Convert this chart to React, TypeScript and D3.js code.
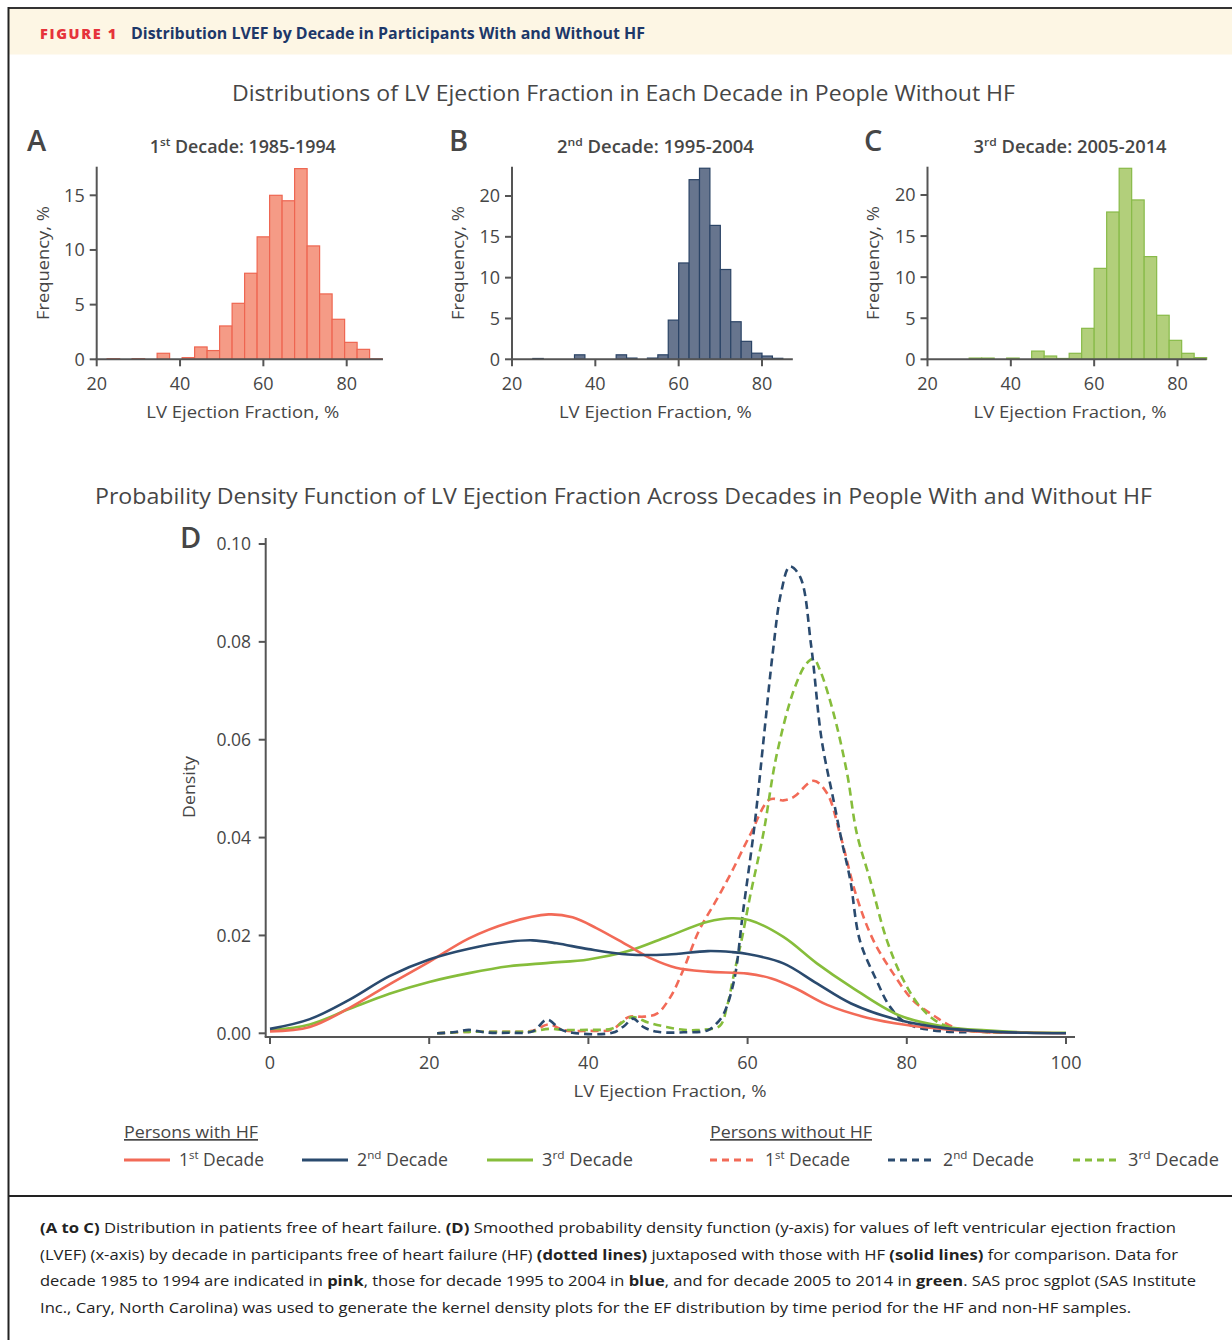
import React from "react";
import * as d3 from "d3";

// ---------- DATA ----------
// Panel A (1st decade 1985-1994), bin width 3, left edges
const binsA = [22.5, 28.5, 34.5, 40.5, 43.5, 46.5, 49.5, 52.5, 55.5, 58.5, 61.5, 64.5, 67.5, 70.5, 73.5, 76.5, 79.5, 82.5, 85.5];
const freqA = [0.06, 0.06, 0.55, 0.15, 1.13, 0.8, 3.05, 5.12, 7.87, 11.2, 15.0, 14.5, 17.44, 10.37, 5.98, 3.66, 1.55, 0.91, 0.04];
// Panel B (2nd decade 1995-2004), bin width 2.5, left edges
const binsB = [25, 35, 45, 47.5, 52.5, 55, 57.5, 60, 62.5, 65, 67.5, 70, 72.5, 75, 77.5, 80, 82.5];
const freqB = [0.1, 0.55, 0.55, 0.15, 0.15, 0.55, 4.8, 11.8, 22.0, 23.4, 16.4, 11.0, 4.6, 2.2, 0.75, 0.4, 0.12];
// Panel C (3rd decade 2005-2014), bin width 3, left edges
const binsC = [30, 33, 39, 45, 48, 51, 54, 57, 60, 63, 66, 69, 72, 75, 78, 81, 84];
const freqC = [0.15, 0.15, 0.15, 1.0, 0.4, 0.1, 0.73, 3.77, 11.07, 17.93, 23.25, 19.4, 12.5, 5.36, 2.31, 0.73, 0.2];

const histXTicks = [20, 40, 60, 80];
const histAYTicks = [0, 5, 10, 15];
const histBYTicks = [0, 5, 10, 15, 20];
const histCYTicks = [0, 5, 10, 15, 20];

// Panel D density curves [EF, density]
const hf1: [number, number][] = [[0, 0.0004], [5, 0.0013], [10, 0.0052], [15, 0.0100], [20, 0.0146], [25, 0.0194], [30, 0.0226], [35, 0.0243], [38, 0.0237], [41, 0.0215], [45, 0.0179], [48, 0.0152], [51, 0.0134], [55, 0.0126], [60, 0.0122], [63, 0.0112], [66, 0.0092], [70, 0.0058], [75, 0.0032], [80, 0.0017], [85, 0.0008], [90, 0.0003], [95, 0.0001], [100, 0]];
const hf2: [number, number][] = [[0, 0.0009], [5, 0.0029], [10, 0.0069], [15, 0.0117], [20, 0.0151], [25, 0.0173], [30, 0.0187], [33, 0.019], [36, 0.0184], [40, 0.0172], [45, 0.0161], [50, 0.0161], [55, 0.0168], [58, 0.0166], [60, 0.0162], [64.5, 0.0143], [68.7, 0.0102], [73, 0.0061], [79, 0.0027], [85, 0.001], [90, 0.0004], [95, 0.0001], [100, 0]];
const hf3: [number, number][] = [[0, 0.0006], [5, 0.0018], [10, 0.005], [15, 0.0081], [20, 0.0105], [25, 0.0123], [30, 0.0137], [35, 0.0144], [40, 0.0151], [45, 0.0168], [50, 0.0198], [55, 0.0228], [58, 0.0235], [60.3, 0.0231], [64.5, 0.0197], [68.7, 0.0143], [73, 0.0095], [79, 0.0037], [85, 0.0013], [90, 0.0006], [95, 0.0002], [100, 0.0001]];
const nohf1: [number, number][] = [[21, 0], [25, 0.0003], [30, 0.0003], [33, 0.0005], [35, 0.0018], [37, 0.0006], [40, 0.0005], [43, 0.0008], [45, 0.0033], [47, 0.0034], [48.6, 0.004], [50.3, 0.0074], [51.9, 0.0129], [53.9, 0.021], [56, 0.027], [58, 0.033], [60.3, 0.0405], [62.8, 0.0478], [64.5, 0.0476], [65.8, 0.0483], [68.3, 0.0516], [70, 0.049], [71.6, 0.0408], [73.7, 0.0279], [75.8, 0.019], [78.3, 0.0122], [80.8, 0.0067], [83.3, 0.0037], [85.8, 0.0013], [88, 0.0005], [92, 0.0001]];
const nohf2: [number, number][] = [[21, 0], [23, 0.0002], [25, 0.0007], [27, 0.0002], [30, 0.0001], [33, 0.0004], [34.8, 0.0028], [36.5, 0.0008], [38, 0.0001], [43, 0.0001], [44.5, 0.0015], [45.6, 0.003], [47, 0.0012], [48.7, 0.0003], [52, 0.0002], [55, 0.0006], [56.1, 0.002], [57, 0.004], [58.3, 0.0108], [59.4, 0.0245], [60.9, 0.0429], [62, 0.0599], [63.2, 0.0783], [64.2, 0.09], [65.3, 0.0954], [66.6, 0.0933], [68, 0.079], [69.3, 0.06], [70.8, 0.0476], [71.8, 0.0395], [72.9, 0.0313], [74.1, 0.019], [76.2, 0.0108], [77.9, 0.0054], [80, 0.002], [83.3, 0.0006], [87.5, 0.0002]];
const nohf3: [number, number][] = [[21, 0], [25, 0.0003], [30, 0.0003], [33, 0.0004], [35, 0.0009], [37, 0.0007], [40, 0.0007], [43, 0.001], [45.5, 0.0033], [47.5, 0.0022], [49.8, 0.0013], [52, 0.0007], [54, 0.0007], [56.5, 0.0015], [57.4, 0.0054], [58.3, 0.0122], [59.3, 0.0195], [60.3, 0.0279], [62, 0.041], [63.6, 0.0565], [65.8, 0.0701], [67.4, 0.0756], [68.3, 0.0765], [69.1, 0.0742], [70.8, 0.0654], [72.5, 0.0531], [73.7, 0.041], [75.4, 0.0313], [77.5, 0.019], [79.6, 0.0108], [81.7, 0.0054], [84.2, 0.002], [87.5, 0.0006], [92, 0.0001]];

const densityXTicks = [0, 20, 40, 60, 80, 100];
const densityYTicks = [0, 0.02, 0.04, 0.06, 0.08, 0.1];

const decadeSup = ["st", "nd", "rd"];

// ---------- STYLE ----------
const FONT = "'Open Sans', 'Noto Sans', sans-serif";
const TXT = "#464646";
const AX = "#555";
const RED = "#f26a57";
const BLUE = "#2a4a6e";
const GREEN = "#86bd3b";

type HistCfg = {
  letter: string; letterX: number; num: string; sup: string; title: string; titleW: number; bins: number[]; freq: number[]; bw: number;
  yTicks: number[]; left: number; yTopPx: number; xEnd: number; fill: string; stroke: string;
};

const histCfgs: HistCfg[] = [
  { letter: "A", letterX: 27, num: "1", sup: "st", title: " Decade: 1985-1994", titleW: 186, bins: binsA, freq: freqA, bw: 3, yTicks: histAYTicks, left: 96.7, yTopPx: 195.3, xEnd: 88.7, fill: "#f59b86", stroke: "#ee6651" },
  { letter: "B", letterX: 449, num: "2", sup: "nd", title: " Decade: 1995-2004", titleW: 197, bins: binsB, freq: freqB, bw: 2.5, yTicks: histBYTicks, left: 512, yTopPx: 196, xEnd: 87.4, fill: "#67758e", stroke: "#2b4466" },
  { letter: "C", letterX: 864, num: "3", sup: "rd", title: " Decade: 2005-2014", titleW: 193, bins: binsC, freq: freqC, bw: 3, yTicks: histCYTicks, left: 927.5, yTopPx: 195, xEnd: 87, fill: "#b2cf7b", stroke: "#88ba48" },
];

function Histogram({ c }: { c: HistCfg }) {
  const base = 359.3;
  const x = d3.scaleLinear().domain([20, 80]).range([c.left, c.left + 250]);
  const ymax = c.yTicks[c.yTicks.length - 1];
  const y = d3.scaleLinear().domain([0, ymax]).range([base, c.yTopPx]);
  const x1 = x(c.xEnd);
  const mid = (c.left + x1) / 2 + 3;
  return (
    <g>
      <text x={c.letterX} y={150.7} fontSize={29} fontWeight={600} fill={TXT}>{c.letter}</text>
      <text x={mid} y={153.3} fontSize={17.5} fontWeight={600} fill={TXT} textAnchor="middle" textLength={c.titleW} lengthAdjust="spacingAndGlyphs">
        {c.num}
        <tspan dy={-7} fontSize={11.5}>{c.sup}</tspan>
        <tspan dy={7}>{c.title}</tspan>
      </text>
      {c.bins.map((b, i) => (
        <rect key={i} x={x(b)} y={y(c.freq[i])} width={x(b + c.bw) - x(b)} height={base - y(c.freq[i])}
          fill={c.fill} stroke={c.stroke} strokeWidth={1.2} />
      ))}
      <line x1={c.left} x2={c.left} y1={166.7} y2={base} stroke={AX} strokeWidth={2} />
      <line x1={c.left - 1} x2={x1} y1={base} y2={base} stroke={AX} strokeWidth={2} />
      {c.yTicks.map((t) => (
        <g key={t}>
          <line x1={c.left - 7} x2={c.left} y1={y(t)} y2={y(t)} stroke={AX} strokeWidth={2} />
          <text x={c.left - 12} y={y(t)} dy="0.36em" fontSize={18} fill={TXT} textAnchor="end">{t}</text>
        </g>
      ))}
      {histXTicks.map((t) => (
        <g key={t}>
          <line x1={x(t)} x2={x(t)} y1={base} y2={base + 7} stroke={AX} strokeWidth={2} />
          <text x={x(t)} y={390} fontSize={18} fill={TXT} textAnchor="middle">{t}</text>
        </g>
      ))}
      <text x={mid} y={418} fontSize={17} fill={TXT} textAnchor="middle" textLength={193} lengthAdjust="spacingAndGlyphs">LV Ejection Fraction, %</text>
      <text transform={`translate(${c.left - 54},263) rotate(-90)`} dy="0.35em" fontSize={17} fill={TXT} textAnchor="middle" textLength={114} lengthAdjust="spacingAndGlyphs">Frequency, %</text>
    </g>
  );
}

function DensityPanel() {
  const x = d3.scaleLinear().domain([0, 100]).range([270, 1066]);
  const y = d3.scaleLinear().domain([0, 0.1]).range([1033.3, 544]);
  const line = d3.line<[number, number]>().x((d) => x(d[0])).y((d) => y(d[1])).curve(d3.curveCatmullRom.alpha(0.5));
  const axY = 1037;
  const axX = 265.7;
  const series = [
    { d: nohf1, color: RED, dash: true },
    { d: nohf3, color: GREEN, dash: true },
    { d: nohf2, color: BLUE, dash: true },
    { d: hf3, color: GREEN, dash: false },
    { d: hf1, color: RED, dash: false },
    { d: hf2, color: BLUE, dash: false },
  ];
  return (
    <g>
      <text x={180} y={548} fontSize={29} fontWeight={600} fill={TXT}>D</text>
      {series.map((s, i) => (
        <path key={i} d={line(s.d) || ""} fill="none" stroke={s.color} strokeWidth={2.6}
          strokeDasharray={s.dash ? "8,5" : undefined} />
      ))}
      <line x1={axX} x2={axX} y1={538} y2={axY} stroke={AX} strokeWidth={2} />
      <line x1={axX - 1} x2={1075} y1={axY} y2={axY} stroke={AX} strokeWidth={2} />
      {densityYTicks.map((t) => (
        <g key={t}>
          <line x1={axX - 7} x2={axX} y1={y(t)} y2={y(t)} stroke={AX} strokeWidth={2} />
          <text x={251} y={y(t)} dy="0.36em" fontSize={17.5} fill={TXT} textAnchor="end">{t.toFixed(2)}</text>
        </g>
      ))}
      {densityXTicks.map((t) => (
        <g key={t}>
          <line x1={x(t)} x2={x(t)} y1={axY} y2={axY + 7} stroke={AX} strokeWidth={2} />
          <text x={x(t)} y={1069} fontSize={18} fill={TXT} textAnchor="middle">{t}</text>
        </g>
      ))}
      <text x={670} y={1097} fontSize={17} fill={TXT} textAnchor="middle" textLength={193} lengthAdjust="spacingAndGlyphs">LV Ejection Fraction, %</text>
      <text transform="translate(189,787) rotate(-90)" dy="0.35em" fontSize={17} fill={TXT} textAnchor="middle" textLength={62} lengthAdjust="spacingAndGlyphs">Density</text>
    </g>
  );
}

function Legend() {
  const groups = [
    { title: "Persons with HF", tw: 134, x: 124, dash: false, items: [124, 302, 487] },
    { title: "Persons without HF", tw: 162, x: 710, dash: true, items: [710, 888, 1073] },
  ];
  const colors = [RED, BLUE, GREEN];
  return (
    <g>
      {groups.map((g) => (
        <g key={g.title}>
          <text x={g.x} y={1138} fontSize={17} fill={TXT} textDecoration="underline" textLength={g.tw} lengthAdjust="spacingAndGlyphs">{g.title}</text>
          {g.items.map((ix, i) => (
            <g key={i}>
              <line x1={ix} x2={ix + 46} y1={1160} y2={1160} stroke={colors[i]} strokeWidth={2.8}
                strokeDasharray={g.dash ? "7,5" : undefined} />
              <text x={ix + 55} y={1166} fontSize={17.5} fill={TXT} textLength={i === 0 ? 85 : 91} lengthAdjust="spacingAndGlyphs">
                {i + 1}
                <tspan dy={-7} fontSize={11.5}>{decadeSup[i]}</tspan>
                <tspan dy={7}> Decade</tspan>
              </text>
            </g>
          ))}
        </g>
      ))}
    </g>
  );
}

function Caption() {
  const fs = 15;
  return (
    <g fontSize={fs} fill="#222">
      <text x={40} y={1233} textLength={1136} lengthAdjust="spacingAndGlyphs">
        <tspan fontWeight={700}>(A to C)</tspan> Distribution in patients free of heart failure. <tspan fontWeight={700}>(D)</tspan> Smoothed probability density function (y-axis) for values of left ventricular ejection fraction
      </text>
      <text x={40} y={1260} textLength={1138} lengthAdjust="spacingAndGlyphs">
        (LVEF) (x-axis) by decade in participants free of heart failure (HF) <tspan fontWeight={700}>(dotted lines)</tspan> juxtaposed with those with HF <tspan fontWeight={700}>(solid lines)</tspan> for comparison. Data for
      </text>
      <text x={40} y={1286} textLength={1156} lengthAdjust="spacingAndGlyphs">
        decade 1985 to 1994 are indicated in <tspan fontWeight={700}>pink</tspan>, those for decade 1995 to 2004 in <tspan fontWeight={700}>blue</tspan>, and for decade 2005 to 2014 in <tspan fontWeight={700}>green</tspan>. SAS proc sgplot (SAS Institute
      </text>
      <text x={40} y={1313} textLength={1091} lengthAdjust="spacingAndGlyphs">
        Inc., Cary, North Carolina) was used to generate the kernel density plots for the EF distribution by time period for the HF and non-HF samples.
      </text>
    </g>
  );
}

export default function App() {
  return (
    <svg width={1232} height={1340} style={{ position: "absolute", left: 0, top: 0, background: "#fff" }}
      fontFamily={FONT}>
      <rect x={0} y={0} width={1232} height={1340} fill="#fff" />
      <rect x={9} y={9} width={1223} height={45.5} fill="#fdf6e4" />
      <line x1={8} x2={1232} y1={8} y2={8} stroke="#333" strokeWidth={2} />
      <line x1={8.5} x2={8.5} y1={7} y2={1340} stroke="#222" strokeWidth={2} />
      <line x1={8} x2={1232} y1={1196} y2={1196} stroke="#222" strokeWidth={2} />
      <text x={40} y={39} fontSize={14} fontWeight={800} fill="#e6333b" letterSpacing={1.6} textLength={78} lengthAdjust="spacingAndGlyphs">FIGURE 1</text>
      <text x={131} y={39} fontSize={15.5} fontWeight={700} fill="#1d3869" textLength={514} lengthAdjust="spacingAndGlyphs">Distribution LVEF by Decade in Participants With and Without HF</text>

      <text x={623.5} y={101} fontSize={22.5} fill={TXT} textAnchor="middle" textLength={783} lengthAdjust="spacingAndGlyphs">Distributions of LV Ejection Fraction in Each Decade in People Without HF</text>
      {histCfgs.map((c) => <Histogram key={c.letter} c={c} />)}

      <text x={623.5} y={504} fontSize={22.5} fill={TXT} textAnchor="middle" textLength={1057} lengthAdjust="spacingAndGlyphs">Probability Density Function of LV Ejection Fraction Across Decades in People With and Without HF</text>
      <DensityPanel />
      <Legend />
      <Caption />
    </svg>
  );
}
